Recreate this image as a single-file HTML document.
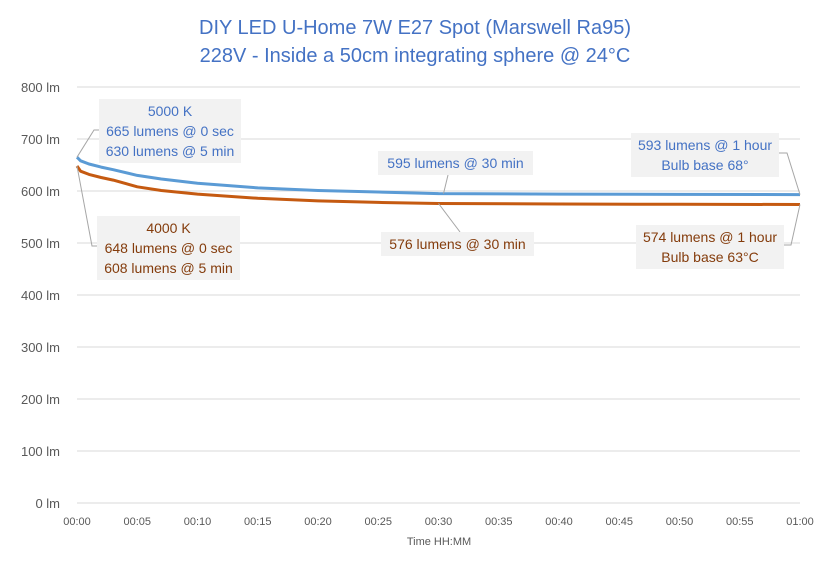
<!DOCTYPE html>
<html><head><meta charset="utf-8"><style>
body{margin:0;background:#fff;}
svg{display:block;font-family:"Liberation Sans",sans-serif;}
</style></head><body>
<svg id="chart" width="829" height="563" viewBox="0 0 829 563">
<rect x="0" y="0" width="829" height="563" fill="#fff"/>
<text x="415" y="34" text-anchor="middle" font-size="20" fill="#4472c4">DIY LED U-Home 7W E27 Spot (Marswell Ra95)</text>
<text x="415" y="62" text-anchor="middle" font-size="20" fill="#4472c4">228V - Inside a 50cm integrating sphere @ 24°C</text>
<g id="grid"></g><g id="yticks"></g><g id="xticks"></g><g id="series"></g>
<text x="439" y="545" text-anchor="middle" font-size="11" fill="#595959">Time HH:MM</text>
<g id="annot" font-size="14"></g>
</svg>
<script>
const minutes=[0,0.3,1,2,3,5,7,10,15,20,25,30,40,50,60];
const blueVals=[665,658,652,646,641,630,623,615,606,601,598,595,594,593.5,593];
const orangeVals=[648,638,632,626,621,608,601,594,586,581,578,576,575,574.5,574];
const yTicks=[0,100,200,300,400,500,600,700,800];
const xTickMin=[0,5,10,15,20,25,30,35,40,45,50,55,60];
const xTickLabels=["00:00","00:05","00:10","00:15","00:20","00:25","00:30","00:35","00:40","00:45","00:50","00:55","01:00"];
const X0=77,X1=800,Y0=503,Y1=87;
const xs=m=>X0+(X1-X0)*m/60, ys=v=>Y0-(Y0-Y1)*v/800;
const NS="http://www.w3.org/2000/svg";
function mk(t,a,p){const e=document.createElementNS(NS,t);for(const k in a)e.setAttribute(k,a[k]);p.appendChild(e);return e;}
const grid=document.getElementById('grid'),yt=document.getElementById('yticks'),xt=document.getElementById('xticks'),ser=document.getElementById('series'),an=document.getElementById('annot');
yTicks.forEach(v=>{
 const l=mk('line',{x1:X0,x2:X1,y1:ys(v),y2:ys(v),stroke:'#d9d9d9','stroke-width':1},grid);
 
 
 const t=mk('text',{x:60,y:ys(v)+5,'text-anchor':'end','font-size':13,fill:'#595959'},yt);t.textContent=v+' lm';
 
 
});
xTickMin.forEach((m,i)=>{
 const t=mk('text',{x:xs(m),y:525,'text-anchor':'middle','font-size':11,fill:'#595959'},xt);t.textContent=xTickLabels[i];
 
 
});
function line(vals,col,name){
 const d=minutes.map((m,i)=>(i?'L':'M')+xs(m).toFixed(1)+','+ys(vals[i]).toFixed(1)).join(' ');
 const p=mk('path',{d:d,fill:'none',stroke:col,'stroke-width':3,'stroke-linejoin':'round'},ser);
 
 
}
line(blueVals,'#5b9bd5','series-5000k');
line(orangeVals,'#c55a11','series-4000k');
const B='#4472c4',O='#843c0c';
function box(x,y,w,lines,col,name,leader){
 const g=mk('g',{},an);
 
 
 mk('polyline',{points:leader,fill:'none',stroke:'#a6a6a6','stroke-width':1},g);
 mk('rect',{x:x,y:y,width:w,height:lines.length*20+4,fill:'#f2f2f2'},g);
 lines.forEach((s,i)=>{const t=mk('text',{x:x+w/2,y:y+17+i*20,'text-anchor':'middle',fill:col},g);t.textContent=s;});
}
box(99,99,142,["5000 K","665 lumens @ 0 sec","630 lumens @ 5 min"],B,'label-5000k-start',`${xs(0)},${ys(blueVals[0])} 94,130 99,130`);
box(97,216,143,["4000 K","648 lumens @ 0 sec","608 lumens @ 5 min"],O,'label-4000k-start',`${xs(0)},${ys(orangeVals[0])} 92,246 97,246`);
box(378,151,155,["595 lumens @ 30 min"],B,'label-5000k-30min',`${xs(30)+5},${ys(blueVals[11])} 448,175`);
box(381,232,153,["576 lumens @ 30 min"],O,'label-4000k-30min',`${xs(30)},${ys(orangeVals[11])} 460,232`);
box(631,133,148,["593 lumens @ 1 hour","Bulb base 68°"],B,'label-5000k-1hour',`${xs(60)},${ys(blueVals[14])} 787,153 779,153`);
box(636,225,148,["574 lumens @ 1 hour","Bulb base 63°C"],O,'label-4000k-1hour',`${xs(60)},${ys(orangeVals[14])} 791,245 784,245`);
</script>
</body></html>
